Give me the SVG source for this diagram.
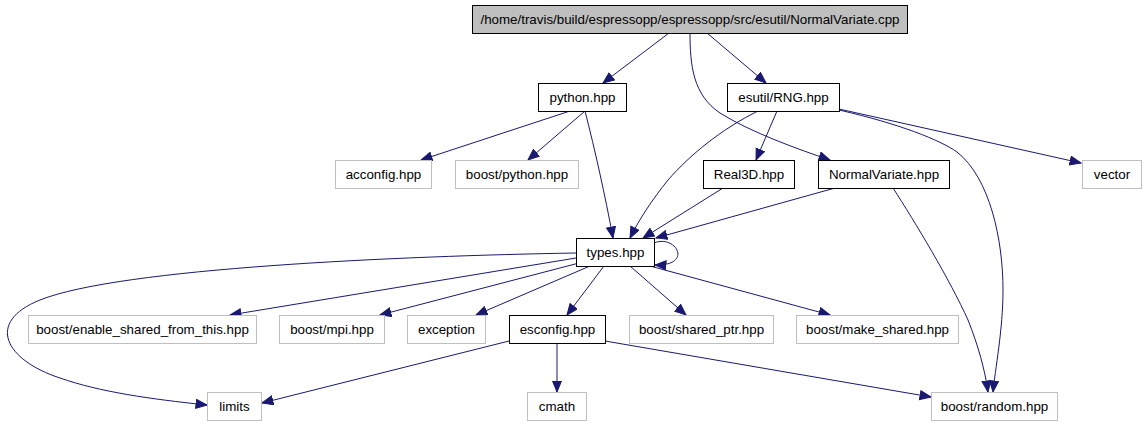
<svg xmlns="http://www.w3.org/2000/svg" width="1146" height="427" viewBox="0 0 1146 427">
<style>
.n rect{fill:#fff;stroke:#000;stroke-width:1}
.g rect{fill:#fff;stroke:#bfbfbf;stroke-width:1}
.r rect{fill:#bfbfbf;stroke:#000;stroke-width:1}
text{font-family:"Liberation Sans",Arial,sans-serif;font-size:13.33px;text-anchor:middle;fill:#000}
#edges path{fill:none;stroke:#191970;stroke-width:1;marker-end:url(#a)}
</style>
<defs>
<marker id="a" markerWidth="13" markerHeight="11" refX="11.5" refY="5" orient="auto" markerUnits="userSpaceOnUse">
<path d="M0.5,0.5 L11.5,5 L0.5,9.5 z" fill="#191970" stroke="#191970" stroke-width="1"/>
</marker>
</defs>
<rect width="1146" height="427" fill="#fff"/>
<g id="edges">
<path d="M669,33 L603,83"/>
<path d="M707,33 L766,83"/>
<path d="M690,33 C690,65 693,95 720,113 C750,132 800,150 830,160"/>
<path d="M570,111 L421,160"/>
<path d="M585,111 L528,160"/>
<path d="M585,111 C595,150 605,195 613,238"/>
<path d="M758,111 C720,130 690,155 668,180 C652,200 640,218 630,238"/>
<path d="M777,111 L756,160"/>
<path d="M839,109 L1081,163"/>
<path d="M839,110 C900,124 940,140 957,152 C990,178 1003,240 1003,290 C1003,330 995,370 993,392"/>
<path d="M723,188 L643,238"/>
<path d="M835,188 L656,238"/>
<path d="M893,188 C915,222 950,280 968,320 C978,345 985,370 988,392"/>
<path d="M654,243 C676,234 694,266 655,265"/>
<path d="M576,253 C400,256 120,268 40,300 C-15,322 5,360 60,378 C100,392 150,399 207,405"/>
<path d="M576,258 L230,315"/>
<path d="M579,263 L380,315"/>
<path d="M590,266 L476,315"/>
<path d="M604,266 L567,315"/>
<path d="M630,266 L686,315"/>
<path d="M650,266 L830,315"/>
<path d="M509,341 L262,403"/>
<path d="M557,343 L557,392"/>
<path d="M605,341 L931,397"/>
</g>
<g id="root" class="r"><rect x="472.5" y="5.5" width="435" height="28"/><text x="690" y="24">/home/travis/build/espressopp/espressopp/src/esutil/NormalVariate.cpp</text></g>
<g id="python" class="n"><rect x="538.5" y="83.5" width="88" height="28"/><text x="582.5" y="102">python.hpp</text></g>
<g id="rng" class="n"><rect x="727.5" y="83.5" width="112" height="28"/><text x="783.5" y="102">esutil/RNG.hpp</text></g>
<g id="acconfig" class="g"><rect x="335.5" y="160.5" width="96" height="28"/><text x="383.5" y="179">acconfig.hpp</text></g>
<g id="boostpython" class="g"><rect x="455.5" y="160.5" width="123" height="28"/><text x="517" y="179">boost/python.hpp</text></g>
<g id="real3d" class="n"><rect x="703.5" y="160.5" width="91" height="28"/><text x="749" y="179">Real3D.hpp</text></g>
<g id="normalvariate" class="n"><rect x="818.5" y="160.5" width="131" height="28"/><text x="884" y="179">NormalVariate.hpp</text></g>
<g id="vector" class="g"><rect x="1082.5" y="160.5" width="59" height="28"/><text x="1112" y="179">vector</text></g>
<g id="types" class="n"><rect x="576.5" y="238.5" width="78" height="28"/><text x="615.5" y="257">types.hpp</text></g>
<g id="enable" class="g"><rect x="28.5" y="315.5" width="228" height="28"/><text x="142.5" y="334">boost/enable_shared_from_this.hpp</text></g>
<g id="mpi" class="g"><rect x="279.5" y="315.5" width="105" height="28"/><text x="332" y="334">boost/mpi.hpp</text></g>
<g id="exception" class="g"><rect x="407.5" y="315.5" width="78" height="28"/><text x="446.5" y="334">exception</text></g>
<g id="esconfig" class="n"><rect x="509.5" y="315.5" width="96" height="28"/><text x="557.5" y="334">esconfig.hpp</text></g>
<g id="sharedptr" class="g"><rect x="629.5" y="315.5" width="144" height="28"/><text x="701.5" y="334">boost/shared_ptr.hpp</text></g>
<g id="makeshared" class="g"><rect x="796.5" y="315.5" width="162" height="28"/><text x="877.5" y="334">boost/make_shared.hpp</text></g>
<g id="limits" class="g"><rect x="207.5" y="392.5" width="54" height="28"/><text x="234.5" y="411">limits</text></g>
<g id="cmath" class="g"><rect x="527.5" y="392.5" width="59" height="28"/><text x="557" y="411">cmath</text></g>
<g id="random" class="g"><rect x="931.5" y="392.5" width="126" height="28"/><text x="994.5" y="411">boost/random.hpp</text></g>
</svg>
